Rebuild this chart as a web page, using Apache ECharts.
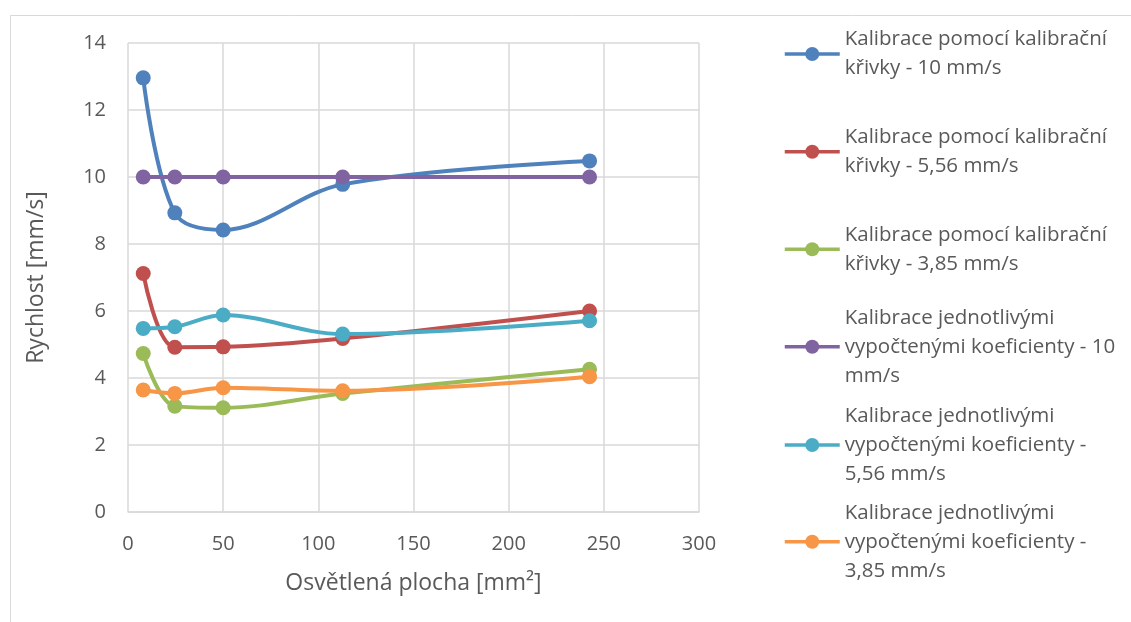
<!DOCTYPE html>
<html>
<head>
<meta charset="utf-8">
<script src="https://cdn.jsdelivr.net/npm/echarts@6/dist/echarts.min.js"></script>
<style>
html,body{margin:0;padding:0;background:#fff;}
#chart{width:1131px;height:622px;}
</style>
</head>
<body>
<div id="chart"></div>
<script>
const xValues = [8, 24.6, 50, 112.8, 242.5];
const seriesNames = [
  'Kalibrace pomocí kalibrační\nkřivky - 10 mm/s',
  'Kalibrace pomocí kalibrační\nkřivky - 5,56 mm/s',
  'Kalibrace pomocí kalibrační\nkřivky - 3,85 mm/s',
  'Kalibrace jednotlivými\nvypočtenými koeficienty - 10\nmm/s',
  'Kalibrace jednotlivými\nvypočtenými koeficienty -\n5,56 mm/s',
  'Kalibrace jednotlivými\nvypočtenými koeficienty -\n3,85 mm/s'
];
const curve10 = [12.96, 8.93, 8.42, 9.78, 10.48];
const curve556 = [7.12, 4.92, 4.93, 5.18, 6.0];
const curve385 = [4.73, 3.16, 3.11, 3.54, 4.26];
const coef10 = [10, 10, 10, 10, 10];
const coef556 = [5.48, 5.53, 5.88, 5.31, 5.71];
const coef385 = [3.64, 3.54, 3.71, 3.62, 4.04];
const xTitle = 'Osvětlená plocha [mm²]';
const yTitle = 'Rychlost [mm/s]';

const seriesValues = [curve10, curve556, curve385, coef10, coef556, coef385];
const colors = ['#4F81BD', '#C0504D', '#9BBB59', '#8064A2', '#4BACC6', '#F79646'];
const FONT = 'Open Sans';
const TXT = '#595959';
const LH = 29;
const legendIconCenters = [54, 151.7, 249.3, 346.7, 445, 541.7];

const chart = echarts.init(document.getElementById('chart'), null, {renderer: 'canvas'});

const series = seriesValues.map((vals, i) => ({
  name: seriesNames[i],
  type: 'line',
  data: xValues.map((x, j) => [x, vals[j]]),
  smooth: i === 3 ? false : 0.35,
  symbol: 'circle',
  symbolSize: 15,
  showSymbol: true,
  color: colors[i],
  lineStyle: {width: 4, color: colors[i]},
  itemStyle: {color: colors[i]},
  emphasis: {disabled: true},
  animation: false
}));

const legends = seriesNames.map((name, i) => {
  const n = name.split('\n').length;
  const H = (2 * n - 1) * LH;
  return {
    show: true,
    orient: 'vertical',
    left: 783,
    top: legendIconCenters[i] - H / 2,
    padding: 0,
    itemWidth: 55,
    itemHeight: 17.5,
    lineStyle: {width: 3.5},
    data: [{
      name: name,
      textStyle: {
        fontFamily: FONT, fontSize: 20.5, color: TXT, lineHeight: LH,
        padding: [(n - 1) * LH, 0, 0, 0],
        backgroundColor: 'rgba(255,255,255,0)'
      }
    }],
    selectedMode: false
  };
});

chart.setOption({
  backgroundColor: '#fff',
  animation: false,
  graphic: [{
    type: 'rect', left: 8, top: 13, silent: true,
    shape: {width: 1200, height: 700},
    style: {fill: 'none', stroke: '#D9D9D9', lineWidth: 1}
  }],
  grid: {left: 128, right: 432, top: 43, bottom: 110, containLabel: false},
  legend: legends,
  xAxis: {
    type: 'value', min: 0, max: 300, interval: 50,
    name: xTitle, nameLocation: 'middle', nameGap: 60,
    nameTextStyle: {fontFamily: FONT, fontSize: 23, color: TXT},
    axisLine: {show: true, lineStyle: {color: '#D9D9D9', width: 1.5}},
    axisTick: {show: false},
    axisLabel: {fontFamily: FONT, fontSize: 20, color: TXT, margin: 22},
    splitLine: {show: true, lineStyle: {color: '#D9D9D9', width: 1.5}}
  },
  yAxis: {
    type: 'value', min: 0, max: 14, interval: 2,
    name: yTitle, nameLocation: 'middle', nameGap: 80, nameRotate: 90,
    nameTextStyle: {fontFamily: FONT, fontSize: 23, color: TXT},
    axisLine: {show: false},
    axisTick: {show: false},
    axisLabel: {fontFamily: FONT, fontSize: 20, color: TXT, margin: 22},
    splitLine: {show: true, lineStyle: {color: '#D9D9D9', width: 1.5}}
  },
  series: series
});
</script>
</body>
</html>
